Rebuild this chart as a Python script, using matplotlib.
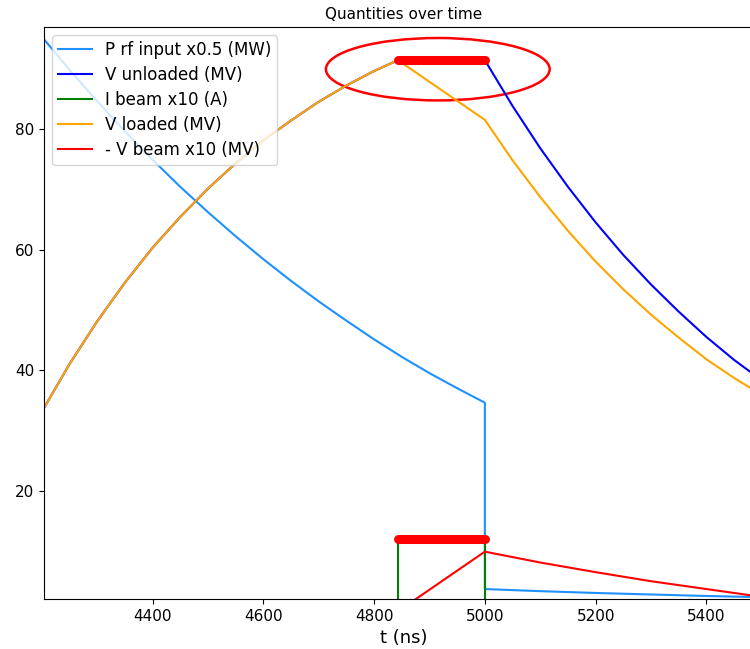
"""Cavity filling plot: rf power, unloaded/loaded voltage and beam during the pulse."""
import matplotlib
matplotlib.use('Agg')
import matplotlib.pyplot as plt
from matplotlib.patches import Ellipse

# time grid (ns) for the filling part, up to beam injection
t_fill = [4200, 4250, 4300, 4350, 4400, 4450, 4500, 4550, 4600, 4650,
          4700, 4750, 4800, 4843]
v_fill = [33.1, 41.0, 48.1, 54.5, 60.3, 65.4, 70.1, 74.3, 78.1, 81.4,
          84.5, 87.2, 89.6, 91.4]

# decay after the rf is switched off
t_decay = [5000, 5050, 5100, 5150, 5200, 5250, 5300, 5350, 5400, 5450, 5500]
v_unloaded_decay = [91.4, 83.8, 76.8, 70.4, 64.5, 59.1, 54.2, 49.7, 45.5, 41.7, 38.3]
v_loaded_decay = [81.5, 74.8, 68.7, 63.1, 58.0, 53.4, 49.2, 45.4, 41.8, 38.7, 35.9]

# rf input power x0.5
t_prf = [4200, 4250, 4300, 4350, 4400, 4450, 4500, 4550, 4600, 4650, 4700,
         4750, 4800, 4850, 4900, 4950, 5000, 5000, 5100, 5200, 5300, 5400, 5500]
p_rf = [95.3, 89.8, 84.6, 79.6, 74.9, 70.4, 66.2, 62.2, 58.4, 54.8, 51.4,
        48.2, 45.1, 42.2, 39.5, 37.0, 34.6, 3.7, 3.35, 3.05, 2.8, 2.55, 2.35]

# beam current x10
t_ibeam = [4200, 4843, 4843, 5000, 5000, 5500]
i_beam = [0, 0, 12, 12, 0, 0]

# beam induced voltage x10
t_vbeam = [4200, 4843, 5000, 5100, 5200, 5300, 5400, 5500]
v_beam = [0, 0, 9.9, 8.1, 6.5, 5.0, 3.7, 2.4]

# beam window highlight
t_beam = [4843, 5000]
flat_top = [91.4, 91.4]
i_level = [12, 12]

fig = plt.figure(figsize=(7.5, 6.49), dpi=100)
ax = fig.add_axes((44 / 750, 1 - 599 / 649, 720 / 750, 572 / 649))

ax.plot(t_prf, p_rf, color='dodgerblue', lw=1.5, label='P rf input x0.5 (MW)')
ax.plot(t_fill + t_decay, v_fill + v_unloaded_decay, color='blue', lw=1.5,
        label='V unloaded (MV)')
ax.plot(t_ibeam, i_beam, color='green', lw=1.5, label='I beam x10 (A)')
ax.plot(t_fill + t_decay, v_fill + v_loaded_decay, color='orange', lw=1.5,
        label='V loaded (MV)')
ax.plot(t_vbeam, v_beam, color='red', lw=1.5, label='- V beam x10 (MV)')

# thick red marks over the beam window
ax.plot(t_beam, flat_top, color='red', lw=6.5, solid_capstyle='round', zorder=5)
ax.plot(t_beam, i_level, color='red', lw=6.5, solid_capstyle='round', zorder=5)
ax.add_patch(Ellipse((4915, 89.9), 404, 10.35, fill=False, edgecolor='red', lw=1.8))

ax.set_xlim(4204, 5504)
ax.set_ylim(2.05, 96.9)
ax.set_title('Quantities over time', fontsize=11)
ax.set_xlabel('t (ns)', fontsize=13)
ax.tick_params(labelsize=11)
ax.legend(loc='upper left', fontsize=12, labelspacing=0.42, borderpad=0.35)

fig.savefig('out.png', dpi=100)
